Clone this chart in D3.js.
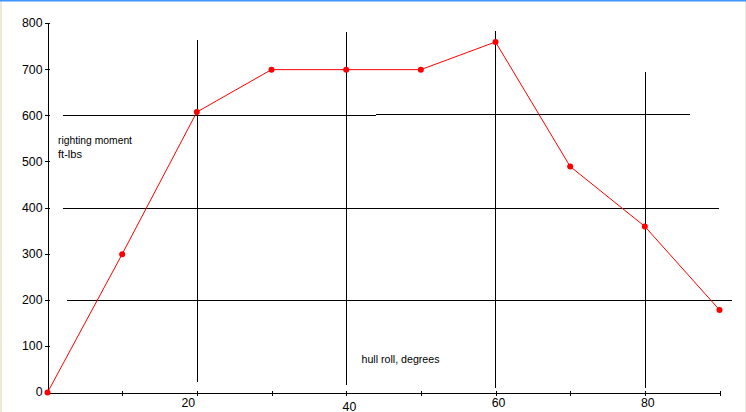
<!DOCTYPE html>
<html>
<head>
<meta charset="utf-8">
<script src="https://cdn.jsdelivr.net/npm/d3@7"></script>
<style>
  html, body { margin: 0; padding: 0; background: #fff; }
  svg { display: block; }
  text { font-family: "Liberation Sans", Arial, sans-serif; font-size: 12.3px; fill: #000; }
  .title { font-size: 11.6px; }
</style>
</head>
<body>
<svg id="chart" width="746" height="412"></svg>
<script>
// ---- data ----
const degrees = [0, 10, 20, 30, 40, 50, 60, 70, 80, 90];
const moment  = [0, 300, 608, 700, 700, 700, 760, 490, 360, 179];
const yTicks  = [0, 100, 200, 300, 400, 500, 600, 700, 800];
const xTicks  = [10, 20, 30, 40, 50, 60, 70, 80, 90];
const xTickLabels = ["20", "40", "60", "80"];
const xTickLabelValues = [20, 40, 60, 80];
// hand-drawn reference lines, in data units [x1, y1, x2, y2]
const refLines = [
  [2.0, 601, 43.9, 601],
  [43.9, 603, 85.85, 603],
  [1.94, 401, 89.76, 401],
  [2.48, 200, 91.5, 200],
  [20, 767, 20, 26],
  [40, 783, 40, 19.5],
  [60, 785, 60, 13],
  [80, 696, 80, 13]
];
const yTitle = ["righting moment", "ft-lbs"];
const xTitle = "hull roll, degrees";

// ---- layout ----
const W = 746, H = 412;
const xLabelNudge = [[-8.6, 0], [3.3, 3.5], [3, 0], [3, 0]];
const yTitleWidths = [74, 24];
const xTitleWidth = 78;

const svg = d3.select("#chart");
const x = d3.scaleLinear().domain([0, 90]).range([47.5, 719.5]);
const y = d3.scaleLinear().domain([0, 800]).range([392.5, 23.5]);

// window chrome
svg.append("rect").attr("x", 0).attr("y", 0).attr("width", 2).attr("height", H).attr("fill", "#ece9d8");
svg.append("rect").attr("x", 745).attr("y", 0).attr("width", 1).attr("height", H).attr("fill", "#ece9d8");
svg.append("rect").attr("x", 0).attr("y", 0).attr("width", W).attr("height", 1.5).attr("fill", "#3d95ff");

// reference lines
svg.append("g").selectAll("line").data(refLines).join("line")
  .attr("x1", d => Math.round(x(d[0])) + 0.5)
  .attr("x2", d => Math.round(x(d[2])) + 0.5)
  .attr("y1", d => Math.round(y(d[1])) + 0.5)
  .attr("y2", d => Math.round(y(d[3])) + 0.5)
  .attr("stroke", "#000").attr("stroke-width", 1.2).attr("shape-rendering", "crispEdges");

// y axis
const yAxis = svg.append("g")
  .call(d3.axisLeft(y).tickValues(yTicks).tickSize(3).tickPadding(5).tickSizeOuter(0).tickFormat(d3.format("d")))
  .attr("transform", `translate(${Math.round(x(0))},-0.5)`);
yAxis.select(".domain").attr("stroke", "#000").attr("stroke-width", 1.3).attr("shape-rendering", "crispEdges");
yAxis.selectAll(".tick line").attr("x1", 2).attr("x2", -3).attr("stroke", "#000").attr("shape-rendering", "crispEdges");
yAxis.selectAll(".tick text").attr("font-family", null).attr("font-size", null).attr("x", -5.5);

// x axis
const xAxis = svg.append("g")
  .call(d3.axisBottom(x).tickValues(xTicks).tickSize(3).tickSizeOuter(0).tickFormat(""))
  .attr("transform", `translate(0,${Math.round(y(0))})`);
xAxis.select(".domain").attr("stroke", "#000").attr("stroke-width", 1.3).attr("shape-rendering", "crispEdges");
xAxis.selectAll(".tick line").attr("y1", -2).attr("y2", 3).attr("stroke", "#000").attr("shape-rendering", "crispEdges");

svg.append("g").selectAll("text").data(xTickLabelValues).join("text")
  .attr("x", (d, i) => x(d) + xLabelNudge[i][0])
  .attr("y", (d, i) => 407 + xLabelNudge[i][1])
  .attr("text-anchor", "middle")
  .text((d, i) => xTickLabels[i]);

// series
const pts = degrees.map((d, i) => [d, moment[i]]);
svg.append("path").datum(pts)
  .attr("fill", "none").attr("stroke", "#ff0000").attr("stroke-width", 1)
  .attr("d", d3.line().x(d => x(d[0])).y(d => y(d[1])));
svg.append("g").selectAll("circle").data(pts).join("circle")
  .attr("cx", d => x(d[0])).attr("cy", d => y(d[1])).attr("r", 3)
  .attr("fill", "#ff0000");

// titles
svg.append("g").selectAll("text").data(yTitle).join("text")
  .attr("class", "title")
  .attr("x", 58).attr("y", (d, i) => 144.3 + i * 13.2)
  .attr("textLength", (d, i) => yTitleWidths[i]).attr("lengthAdjust", "spacingAndGlyphs")
  .text(d => d);
svg.append("text").attr("class", "title").attr("x", 361.5).attr("y", 362.7)
  .attr("textLength", xTitleWidth).attr("lengthAdjust", "spacingAndGlyphs")
  .text(xTitle);
</script>
</body>
</html>
